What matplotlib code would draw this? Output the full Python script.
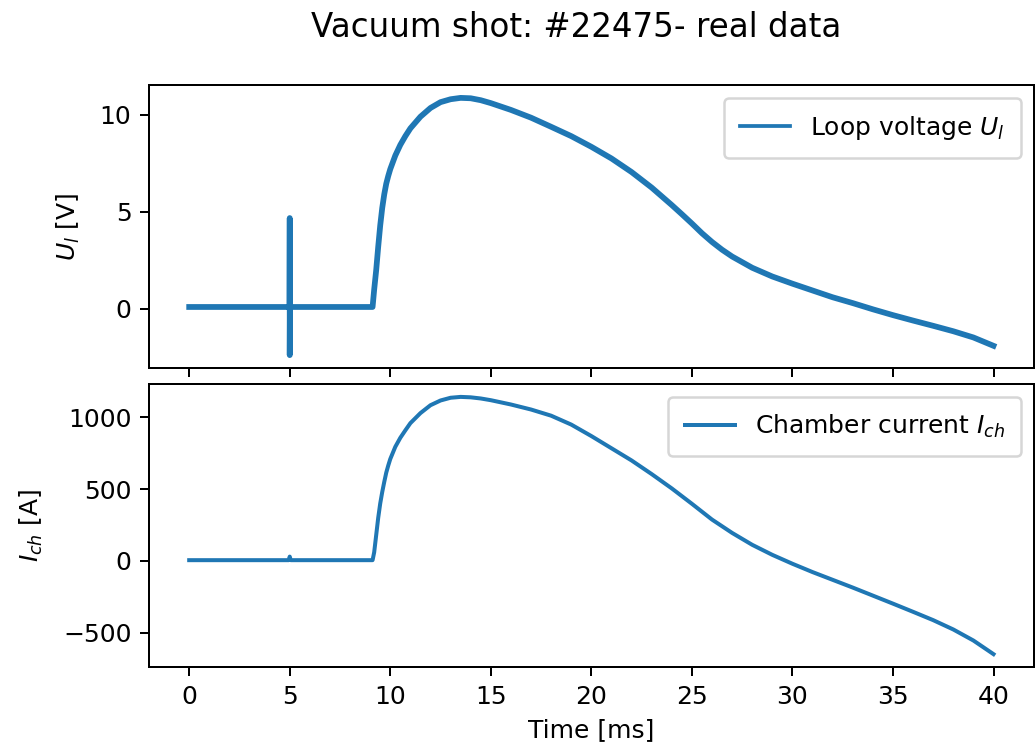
import numpy as np
import matplotlib
matplotlib.use('Agg')
import matplotlib.pyplot as plt

# Loop voltage
t_loop = [0, 4.99, 5.0, 5.0, 5.01, 9.12, 9.2, 9.3, 9.4, 9.5, 9.6, 9.7, 9.8, 9.9, 10.0,
          10.25, 10.5, 10.75, 11.0, 11.5, 12.0, 12.5, 13.0, 13.5, 14.0, 14.5, 15.0, 16.0,
          17.0, 18.0, 19.0, 20.0, 21.0, 22.0, 23.0, 24.0, 24.5, 25.0, 25.5, 26.0, 26.5,
          27.0, 28.0, 29.0, 30.0, 31.0, 32.0, 33.0, 34.0, 35.0, 36.0, 37.0, 38.0, 39.0, 40.0]
u_loop = [0.1, 0.1, 4.68, -2.38, 0.1, 0.1, 1.0, 2.0, 3.2, 4.3, 5.2, 5.9, 6.45, 6.85, 7.2,
          7.9, 8.45, 8.9, 9.3, 9.9, 10.35, 10.65, 10.8, 10.87, 10.85, 10.75, 10.6, 10.25,
          9.85, 9.38, 8.9, 8.35, 7.75, 7.05, 6.25, 5.35, 4.88, 4.4, 3.9, 3.45, 3.05,
          2.7, 2.12, 1.67, 1.3, 0.95, 0.6, 0.3, -0.02, -0.32, -0.6, -0.87, -1.15, -1.47, -1.9]

# Chamber current
t_ch = [0, 4.95, 5.0, 5.05, 9.12, 9.2, 9.3, 9.4, 9.5, 9.6, 9.7, 9.8, 9.9, 10.0, 10.25,
        10.5, 10.75, 11.0, 11.5, 12.0, 12.5, 13.0, 13.5, 14.0, 14.5, 15.0, 16.0, 17.0,
        18.0, 19.0, 20.0, 21.0, 22.0, 23.0, 24.0, 25.0, 26.0, 27.0, 28.0, 29.0, 30.0,
        31.0, 32.0, 33.0, 34.0, 35.0, 36.0, 37.0, 38.0, 39.0, 40.0]
i_ch = [5, 5, 30, 5, 5, 60, 180, 300, 400, 480, 550, 615, 665, 710, 795,
        858, 910, 960, 1030, 1085, 1118, 1137, 1143, 1140, 1132, 1120, 1090, 1055,
        1012, 950, 870, 785, 700, 605, 505, 398, 288, 195, 112, 42, -20,
        -78, -132, -186, -242, -298, -355, -413, -478, -555, -650]

fig = plt.figure(figsize=(1036/180, 753/180), dpi=180)
ax1 = fig.add_axes([0.1438, 0.5113, 0.854, 0.3758])
ax2 = fig.add_axes([0.1438, 0.1142, 0.854, 0.3758], sharex=ax1)

ax1.plot(t_loop, u_loop, color='C0', lw=2.3, label='Loop voltage $U_l$')
ax1.set_ylabel('$U_l$ [V]', labelpad=7)
leg1 = ax1.legend(loc='upper right', borderpad=0.65)
leg1.get_lines()[0].set_linewidth(1.5)
plt.setp(ax1.get_xticklabels(), visible=False)

ax2.plot(t_ch, i_ch, color='C0', lw=1.6, label='Chamber current $I_{ch}$')
ax2.set_ylabel('$I_{ch}$ [A]', labelpad=7)
ax2.set_xlabel('Time [ms]')
ax2.legend(loc='upper right', borderpad=0.65)

fig.suptitle('Vacuum shot: #22475- real data', fontsize=13, x=0.556, y=0.985)

fig.savefig('out.png', dpi=180)
